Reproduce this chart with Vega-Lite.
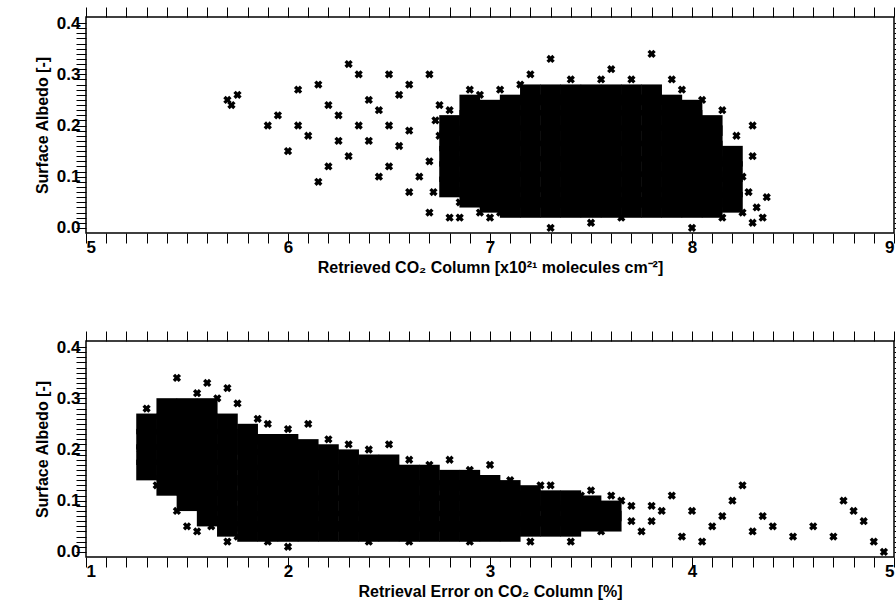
{
"$schema":"https://vega.github.io/schema/vega-lite/v6.json",
"background":"white",
"padding":{"left":33,"top":5,"right":0,"bottom":0},
"config":{"view":{"stroke":"black","strokeWidth":1.5},
"axis":{"grid":false,"domain":false,"tickColor":"black","tickSize":10,"tickWidth":1,"labelFont":"Liberation Sans","labelFontWeight":"bold","labelFontSize":17,"labelColor":"black","titleFont":"Liberation Sans","titleFontWeight":"bold","titleFontSize":16,"titleColor":"black","labelPadding":-4,"labelOverlap":false},
"axisBottom":{"encode":{"ticks":{"update":{"y2":{"signal":"abs(datum.value-round(datum.value))<1e-6 ? -10 : -5"}}}}},
"axisTop":{"encode":{"ticks":{"update":{"y2":{"signal":"abs(datum.value-round(datum.value))<1e-6 ? 10 : 5"}}}}},
"axisLeft":{"encode":{"ticks":{"update":{"x2":{"signal":"abs(datum.value*10-round(datum.value*10))<1e-6 ? 10 : 5"}}}}},
"axisRight":{"encode":{"ticks":{"update":{"x2":{"signal":"abs(datum.value*10-round(datum.value*10))<1e-6 ? -10 : -5"}}}}}},
"spacing":53,
"datasets":{
"topcore":[
{"x":6.8,"y":0.08},{"x":6.8,"y":0.11},{"x":6.8,"y":0.14},{"x":6.8,"y":0.17},{"x":6.8,"y":0.2},
{"x":6.9,"y":0.06},{"x":6.9,"y":0.09},{"x":6.9,"y":0.12},{"x":6.9,"y":0.15},{"x":6.9,"y":0.18},{"x":6.9,"y":0.21},{"x":6.9,"y":0.24},
{"x":7.0,"y":0.05},{"x":7.0,"y":0.08},{"x":7.0,"y":0.11},{"x":7.0,"y":0.14},{"x":7.0,"y":0.17},{"x":7.0,"y":0.2},{"x":7.0,"y":0.23},
{"x":7.1,"y":0.04},{"x":7.1,"y":0.06},{"x":7.1,"y":0.09},{"x":7.1,"y":0.12},{"x":7.1,"y":0.15},{"x":7.1,"y":0.18},{"x":7.1,"y":0.21},{"x":7.1,"y":0.24},
{"x":7.2,"y":0.04},{"x":7.2,"y":0.06},{"x":7.2,"y":0.09},{"x":7.2,"y":0.12},{"x":7.2,"y":0.15},{"x":7.2,"y":0.18},{"x":7.2,"y":0.21},{"x":7.2,"y":0.24},{"x":7.2,"y":0.26},
{"x":7.3,"y":0.04},{"x":7.3,"y":0.06},{"x":7.3,"y":0.09},{"x":7.3,"y":0.12},{"x":7.3,"y":0.15},{"x":7.3,"y":0.18},{"x":7.3,"y":0.21},{"x":7.3,"y":0.24},{"x":7.3,"y":0.26},
{"x":7.4,"y":0.04},{"x":7.4,"y":0.06},{"x":7.4,"y":0.09},{"x":7.4,"y":0.12},{"x":7.4,"y":0.15},{"x":7.4,"y":0.18},{"x":7.4,"y":0.21},{"x":7.4,"y":0.24},{"x":7.4,"y":0.26},
{"x":7.5,"y":0.04},{"x":7.5,"y":0.06},{"x":7.5,"y":0.09},{"x":7.5,"y":0.12},{"x":7.5,"y":0.15},{"x":7.5,"y":0.18},{"x":7.5,"y":0.21},{"x":7.5,"y":0.24},{"x":7.5,"y":0.26},
{"x":7.6,"y":0.04},{"x":7.6,"y":0.06},{"x":7.6,"y":0.09},{"x":7.6,"y":0.12},{"x":7.6,"y":0.15},{"x":7.6,"y":0.18},{"x":7.6,"y":0.21},{"x":7.6,"y":0.24},{"x":7.6,"y":0.26},
{"x":7.7,"y":0.04},{"x":7.7,"y":0.06},{"x":7.7,"y":0.09},{"x":7.7,"y":0.12},{"x":7.7,"y":0.15},{"x":7.7,"y":0.18},{"x":7.7,"y":0.21},{"x":7.7,"y":0.24},{"x":7.7,"y":0.26},
{"x":7.8,"y":0.04},{"x":7.8,"y":0.06},{"x":7.8,"y":0.09},{"x":7.8,"y":0.12},{"x":7.8,"y":0.15},{"x":7.8,"y":0.18},{"x":7.8,"y":0.21},{"x":7.8,"y":0.24},{"x":7.8,"y":0.26},
{"x":7.9,"y":0.04},{"x":7.9,"y":0.06},{"x":7.9,"y":0.09},{"x":7.9,"y":0.12},{"x":7.9,"y":0.15},{"x":7.9,"y":0.18},{"x":7.9,"y":0.21},{"x":7.9,"y":0.24},
{"x":8.0,"y":0.04},{"x":8.0,"y":0.06},{"x":8.0,"y":0.09},{"x":8.0,"y":0.12},{"x":8.0,"y":0.15},{"x":8.0,"y":0.18},{"x":8.0,"y":0.21},{"x":8.0,"y":0.23},
{"x":8.1,"y":0.04},{"x":8.1,"y":0.06},{"x":8.1,"y":0.09},{"x":8.1,"y":0.12},{"x":8.1,"y":0.15},{"x":8.1,"y":0.18},{"x":8.1,"y":0.2},
{"x":8.2,"y":0.05},{"x":8.2,"y":0.08},{"x":8.2,"y":0.11},{"x":8.2,"y":0.14}
],
"top":[
{"x":5.7,"y":0.25},{"x":5.75,"y":0.26},{"x":5.72,"y":0.24},{"x":5.9,"y":0.2},{"x":5.95,"y":0.22},{"x":6.0,"y":0.15},{"x":6.05,"y":0.27},{"x":6.1,"y":0.18},{"x":6.15,"y":0.28},{"x":6.2,"y":0.12},
{"x":6.25,"y":0.22},{"x":6.3,"y":0.32},{"x":6.35,"y":0.3},{"x":6.4,"y":0.25},{"x":6.45,"y":0.1},{"x":6.5,"y":0.2},{"x":6.55,"y":0.16},{"x":6.6,"y":0.28},{"x":6.6,"y":0.07},{"x":6.7,"y":0.03},
{"x":6.5,"y":0.12},{"x":6.4,"y":0.17},{"x":6.3,"y":0.14},{"x":6.2,"y":0.24},{"x":6.7,"y":0.3},{"x":6.8,"y":0.02},{"x":7.0,"y":0.02},{"x":7.3,"y":0.33},{"x":7.2,"y":0.3},{"x":7.8,"y":0.34},
{"x":7.6,"y":0.31},{"x":8.3,"y":0.01},{"x":8.35,"y":0.02},{"x":8.37,"y":0.06},{"x":8.25,"y":0.1},{"x":8.3,"y":0.2},{"x":6.9,"y":0.27},{"x":6.6,"y":0.19},{"x":6.45,"y":0.23},{"x":6.75,"y":0.24},
{"x":6.7,"y":0.13},{"x":6.65,"y":0.1},{"x":6.75,"y":0.18},{"x":7.3,"y":0.0},{"x":7.5,"y":0.01},{"x":8.0,"y":0.0},{"x":6.55,"y":0.26},{"x":6.35,"y":0.2},{"x":6.05,"y":0.2},{"x":6.25,"y":0.17},
{"x":6.85,"y":0.02},{"x":6.95,"y":0.03},{"x":7.9,"y":0.29},{"x":7.4,"y":0.29},{"x":8.25,"y":0.03},{"x":8.3,"y":0.14},{"x":6.5,"y":0.3},{"x":6.15,"y":0.09},
{"x":6.72,"y":0.07},{"x":6.73,"y":0.21},{"x":6.8,"y":0.23},{"x":6.85,"y":0.05},{"x":6.95,"y":0.26},{"x":7.05,"y":0.27},{"x":7.15,"y":0.28},{"x":7.55,"y":0.29},{"x":7.7,"y":0.29},{"x":7.95,"y":0.27},
{"x":8.05,"y":0.25},{"x":8.15,"y":0.23},{"x":8.22,"y":0.18},{"x":8.28,"y":0.07},{"x":8.32,"y":0.04},{"x":7.05,"y":0.03},{"x":7.65,"y":0.02},{"x":8.15,"y":0.02}
],
"botcore":[
{"x":1.3,"y":0.16},{"x":1.3,"y":0.19},{"x":1.3,"y":0.22},{"x":1.3,"y":0.25},
{"x":1.4,"y":0.13},{"x":1.4,"y":0.16},{"x":1.4,"y":0.19},{"x":1.4,"y":0.22},{"x":1.4,"y":0.25},{"x":1.4,"y":0.28},
{"x":1.5,"y":0.1},{"x":1.5,"y":0.13},{"x":1.5,"y":0.16},{"x":1.5,"y":0.19},{"x":1.5,"y":0.22},{"x":1.5,"y":0.25},{"x":1.5,"y":0.28},
{"x":1.6,"y":0.07},{"x":1.6,"y":0.1},{"x":1.6,"y":0.13},{"x":1.6,"y":0.16},{"x":1.6,"y":0.19},{"x":1.6,"y":0.22},{"x":1.6,"y":0.25},{"x":1.6,"y":0.28},
{"x":1.7,"y":0.05},{"x":1.7,"y":0.07},{"x":1.7,"y":0.1},{"x":1.7,"y":0.13},{"x":1.7,"y":0.16},{"x":1.7,"y":0.19},{"x":1.7,"y":0.22},{"x":1.7,"y":0.25},
{"x":1.8,"y":0.04},{"x":1.8,"y":0.06},{"x":1.8,"y":0.09},{"x":1.8,"y":0.12},{"x":1.8,"y":0.15},{"x":1.8,"y":0.18},{"x":1.8,"y":0.21},{"x":1.8,"y":0.23},
{"x":1.9,"y":0.04},{"x":1.9,"y":0.06},{"x":1.9,"y":0.09},{"x":1.9,"y":0.12},{"x":1.9,"y":0.15},{"x":1.9,"y":0.18},{"x":1.9,"y":0.21},
{"x":2.0,"y":0.04},{"x":2.0,"y":0.06},{"x":2.0,"y":0.09},{"x":2.0,"y":0.12},{"x":2.0,"y":0.15},{"x":2.0,"y":0.18},{"x":2.0,"y":0.21},
{"x":2.1,"y":0.04},{"x":2.1,"y":0.06},{"x":2.1,"y":0.09},{"x":2.1,"y":0.12},{"x":2.1,"y":0.15},{"x":2.1,"y":0.18},{"x":2.1,"y":0.2},
{"x":2.2,"y":0.04},{"x":2.2,"y":0.06},{"x":2.2,"y":0.09},{"x":2.2,"y":0.12},{"x":2.2,"y":0.15},{"x":2.2,"y":0.18},{"x":2.2,"y":0.19},
{"x":2.3,"y":0.04},{"x":2.3,"y":0.06},{"x":2.3,"y":0.09},{"x":2.3,"y":0.12},{"x":2.3,"y":0.15},{"x":2.3,"y":0.18},
{"x":2.4,"y":0.04},{"x":2.4,"y":0.06},{"x":2.4,"y":0.09},{"x":2.4,"y":0.12},{"x":2.4,"y":0.15},{"x":2.4,"y":0.17},
{"x":2.5,"y":0.04},{"x":2.5,"y":0.06},{"x":2.5,"y":0.09},{"x":2.5,"y":0.12},{"x":2.5,"y":0.15},{"x":2.5,"y":0.17},
{"x":2.6,"y":0.04},{"x":2.6,"y":0.06},{"x":2.6,"y":0.09},{"x":2.6,"y":0.12},{"x":2.6,"y":0.15},
{"x":2.7,"y":0.04},{"x":2.7,"y":0.06},{"x":2.7,"y":0.09},{"x":2.7,"y":0.12},{"x":2.7,"y":0.15},
{"x":2.8,"y":0.04},{"x":2.8,"y":0.06},{"x":2.8,"y":0.09},{"x":2.8,"y":0.12},{"x":2.8,"y":0.14},
{"x":2.9,"y":0.04},{"x":2.9,"y":0.06},{"x":2.9,"y":0.09},{"x":2.9,"y":0.12},{"x":2.9,"y":0.14},
{"x":3.0,"y":0.04},{"x":3.0,"y":0.06},{"x":3.0,"y":0.09},{"x":3.0,"y":0.12},{"x":3.0,"y":0.13},
{"x":3.1,"y":0.04},{"x":3.1,"y":0.06},{"x":3.1,"y":0.09},{"x":3.1,"y":0.12},
{"x":3.2,"y":0.05},{"x":3.2,"y":0.07},{"x":3.2,"y":0.1},{"x":3.2,"y":0.11},
{"x":3.3,"y":0.05},{"x":3.3,"y":0.07},{"x":3.3,"y":0.1},
{"x":3.4,"y":0.05},{"x":3.4,"y":0.08},{"x":3.4,"y":0.1},
{"x":3.5,"y":0.06},{"x":3.5,"y":0.09},
{"x":3.6,"y":0.06},{"x":3.6,"y":0.08}
],
"bot":[
{"x":3.7,"y":0.06},{"x":3.7,"y":0.09},{"x":3.8,"y":0.06},{"x":3.8,"y":0.09},{"x":3.75,"y":0.04},{"x":3.85,"y":0.08},
{"x":4.0,"y":0.08},{"x":4.1,"y":0.05},{"x":4.2,"y":0.1},{"x":4.25,"y":0.13},{"x":4.3,"y":0.04},{"x":4.35,"y":0.07},{"x":4.5,"y":0.03},{"x":4.6,"y":0.05},{"x":4.7,"y":0.03},{"x":4.8,"y":0.08},
{"x":4.85,"y":0.06},{"x":4.9,"y":0.02},{"x":4.95,"y":0.0},{"x":4.75,"y":0.1},{"x":4.4,"y":0.05},{"x":3.9,"y":0.11},{"x":3.95,"y":0.03},{"x":2.8,"y":0.18},{"x":3.0,"y":0.17},{"x":2.5,"y":0.21},
{"x":2.1,"y":0.25},{"x":1.6,"y":0.33},{"x":1.45,"y":0.34},{"x":1.7,"y":0.32},{"x":3.5,"y":0.12},{"x":3.6,"y":0.11},{"x":1.5,"y":0.05},{"x":1.45,"y":0.08},{"x":1.55,"y":0.04},{"x":4.05,"y":0.02},
{"x":4.15,"y":0.07},{"x":1.3,"y":0.28},{"x":1.35,"y":0.13},{"x":1.55,"y":0.31},{"x":1.75,"y":0.29},{"x":1.9,"y":0.25},{"x":2.3,"y":0.21},{"x":3.3,"y":0.13},{"x":3.2,"y":0.02},{"x":2.6,"y":0.02},
{"x":1.7,"y":0.02},{"x":2.0,"y":0.01},{"x":3.4,"y":0.02},
{"x":1.27,"y":0.2},{"x":1.28,"y":0.24},{"x":1.65,"y":0.3},{"x":1.85,"y":0.26},{"x":2.0,"y":0.24},{"x":2.2,"y":0.22},{"x":2.4,"y":0.2},{"x":2.6,"y":0.18},{"x":2.7,"y":0.17},{"x":2.9,"y":0.16},
{"x":3.1,"y":0.14},{"x":3.25,"y":0.13},{"x":3.45,"y":0.11},{"x":3.65,"y":0.1},{"x":1.62,"y":0.05},{"x":1.75,"y":0.03},{"x":1.9,"y":0.02},{"x":2.4,"y":0.02},{"x":2.9,"y":0.02},{"x":3.55,"y":0.04}
]},
"vconcat":[
{"width":808,"height":216,"resolve":{"axis":{"x":"independent","y":"independent"}},
"layer":[
{"data":{"name":"topcore"},"mark":{"type":"square","filled":true,"color":"black","size":430,"opacity":1},
"encoding":{"x":{"field":"x","type":"quantitative","scale":{"domain":[5,9],"nice":false},"axis":{"values":[5,5.1,5.2,5.3,5.4,5.5,5.6,5.7,5.8,5.9,6,6.1,6.2,6.3,6.4,6.5,6.6,6.7,6.8,6.9,7,7.1,7.2,7.3,7.4,7.5,7.6,7.7,7.8,7.9,8,8.1,8.2,8.3,8.4,8.5,8.6,8.7,8.8,8.9,9],"labelExpr":"abs(datum.value-round(datum.value))<1e-6 ? format(datum.value,'d') : ''","title":"Retrieved CO₂ Column [x10²¹ molecules cm⁻²]"}},
"y":{"field":"y","type":"quantitative","scale":{"domain":[-0.01,0.412],"nice":false,"zero":false},"axis":{"values":[0,0.01,0.02,0.03,0.04,0.05,0.06,0.07,0.08,0.09,0.1,0.11,0.12,0.13,0.14,0.15,0.16,0.17,0.18,0.19,0.2,0.21,0.22,0.23,0.24,0.25,0.26,0.27,0.28,0.29,0.3,0.31,0.32,0.33,0.34,0.35,0.36,0.37,0.38,0.39,0.4],"labelExpr":"abs(datum.value*10-round(datum.value*10))<1e-6 ? format(datum.value,'.1f') : ''","title":"Surface Albedo [-]","titlePadding":6}}}},
{"data":{"name":"top"},"mark":{"type":"point","shape":"cross","angle":45,"filled":true,"color":"black","size":70,"opacity":1},
"encoding":{"x":{"field":"x","type":"quantitative","axis":{"orient":"top","values":[5,5.1,5.2,5.3,5.4,5.5,5.6,5.7,5.8,5.9,6,6.1,6.2,6.3,6.4,6.5,6.6,6.7,6.8,6.9,7,7.1,7.2,7.3,7.4,7.5,7.6,7.7,7.8,7.9,8,8.1,8.2,8.3,8.4,8.5,8.6,8.7,8.8,8.9,9],"labels":false,"title":null}},
"y":{"field":"y","type":"quantitative","axis":{"orient":"right","values":[0,0.01,0.02,0.03,0.04,0.05,0.06,0.07,0.08,0.09,0.1,0.11,0.12,0.13,0.14,0.15,0.16,0.17,0.18,0.19,0.2,0.21,0.22,0.23,0.24,0.25,0.26,0.27,0.28,0.29,0.3,0.31,0.32,0.33,0.34,0.35,0.36,0.37,0.38,0.39,0.4],"labels":false,"title":null}}}}
]},
{"width":808,"height":216,"resolve":{"axis":{"x":"independent","y":"independent"}},
"layer":[
{"data":{"name":"botcore"},"mark":{"type":"square","filled":true,"color":"black","size":430,"opacity":1},
"encoding":{"x":{"field":"x","type":"quantitative","scale":{"domain":[1,5],"nice":false},"axis":{"values":[1,1.1,1.2,1.3,1.4,1.5,1.6,1.7,1.8,1.9,2,2.1,2.2,2.3,2.4,2.5,2.6,2.7,2.8,2.9,3,3.1,3.2,3.3,3.4,3.5,3.6,3.7,3.8,3.9,4,4.1,4.2,4.3,4.4,4.5,4.6,4.7,4.8,4.9,5],"labelExpr":"abs(datum.value-round(datum.value))<1e-6 ? format(datum.value,'d') : ''","title":"Retrieval Error on CO₂ Column [%]"}},
"y":{"field":"y","type":"quantitative","scale":{"domain":[-0.01,0.412],"nice":false,"zero":false},"axis":{"values":[0,0.01,0.02,0.03,0.04,0.05,0.06,0.07,0.08,0.09,0.1,0.11,0.12,0.13,0.14,0.15,0.16,0.17,0.18,0.19,0.2,0.21,0.22,0.23,0.24,0.25,0.26,0.27,0.28,0.29,0.3,0.31,0.32,0.33,0.34,0.35,0.36,0.37,0.38,0.39,0.4],"labelExpr":"abs(datum.value*10-round(datum.value*10))<1e-6 ? format(datum.value,'.1f') : ''","title":"Surface Albedo [-]","titlePadding":6}}}},
{"data":{"name":"bot"},"mark":{"type":"point","shape":"cross","angle":45,"filled":true,"color":"black","size":70,"opacity":1},
"encoding":{"x":{"field":"x","type":"quantitative","axis":{"orient":"top","values":[1,1.1,1.2,1.3,1.4,1.5,1.6,1.7,1.8,1.9,2,2.1,2.2,2.3,2.4,2.5,2.6,2.7,2.8,2.9,3,3.1,3.2,3.3,3.4,3.5,3.6,3.7,3.8,3.9,4,4.1,4.2,4.3,4.4,4.5,4.6,4.7,4.8,4.9,5],"labels":false,"title":null}},
"y":{"field":"y","type":"quantitative","axis":{"orient":"right","values":[0,0.01,0.02,0.03,0.04,0.05,0.06,0.07,0.08,0.09,0.1,0.11,0.12,0.13,0.14,0.15,0.16,0.17,0.18,0.19,0.2,0.21,0.22,0.23,0.24,0.25,0.26,0.27,0.28,0.29,0.3,0.31,0.32,0.33,0.34,0.35,0.36,0.37,0.38,0.39,0.4],"labels":false,"title":null}}}}
]}
]}
